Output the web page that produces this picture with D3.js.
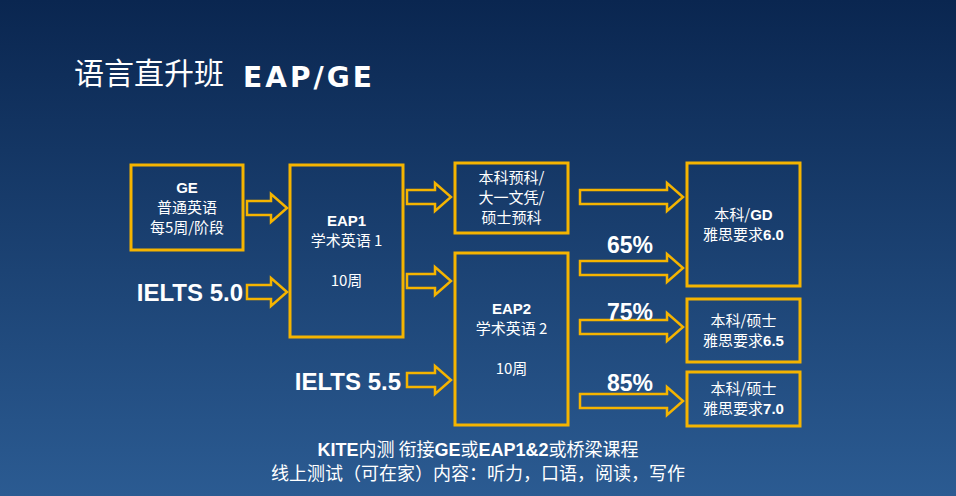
<!DOCTYPE html>
<html><head><meta charset="utf-8">
<script src="https://cdn.jsdelivr.net/npm/d3@7"></script>
<style>body{margin:0;overflow:hidden}</style>
</head><body><div id="vis"></div>
<script>
// box texts
const boxLines = [
  ["GE", "普通英语", "每5周/阶段"],
  ["EAP1", "学术英语 1", "", "10周"],
  ["本科预科/", "大一文凭/", "硕士预科"],
  ["EAP2", "学术英语 2", "", "10周"],
  ["本科/GD", "雅思要求6.0"],
  ["本科/硕士", "雅思要求6.5"],
  ["本科/硕士", "雅思要求7.0"]
];
const percents = ["65%", "75%", "85%"];
const entryLabels = ["IELTS 5.0", "IELTS 5.5"];
const footer = ["KITE内测 衔接GE或EAP1&2或桥梁课程", "线上测试（可在家）内容：听力，口语，阅读，写作"];

// layout
const boxRects = [[131,165,112,85],[290,165,113,172],[455,163,113,70],[455,253,113,172],[687,163,113,123],[687,299,113,63],[687,372,113,54]];
const arrowPos = [[247,287,208],[247,287,292],[407,451,197],[407,451,281],[407,451,380],[580,683,197],[580,683,268],[580,683,327],[580,683,401]];
const gold = "#f5b400";

const svg = d3.select("#vis").append("svg").attr("width",956).attr("height",496);
const grad = svg.append("defs").append("linearGradient").attr("id","bg").attr("x1",0).attr("y1",0).attr("x2",0).attr("y2",1);
grad.append("stop").attr("offset","0%").attr("stop-color","#0a2650");
grad.append("stop").attr("offset","100%").attr("stop-color","#2b5b92");
svg.append("rect").attr("width",956).attr("height",496).attr("fill","url(#bg)");

svg.append("text").attr("x",74).attr("y",84).attr("fill","#fff").style("font-family","Noto Sans CJK SC")
  .style("font-size","30px").text("语言直升班");
svg.append("text").attr("x",243).attr("y",87).attr("fill","#fff").style("font-family","DejaVu Sans")
  .style("font-weight","bold").style("font-size","28px").attr("textLength",129).text("EAP/GE");

// split a line into latin (bold) and CJK (regular) runs
const runs = t => t.match(/[A-Za-z0-9.&%]+|[^A-Za-z0-9.&%]+/g) || [];
function richText(sel, t, boldLatin) {
  runs(t).forEach(r => {
    const latin = /[A-Za-z0-9]/.test(r);
    sel.append("tspan").text(r)
      .style("font-family", latin && boldLatin ? "Liberation Sans" : "Noto Sans CJK SC")
      .style("font-weight", latin && boldLatin ? "bold" : "normal");
  });
}

const bx = svg.selectAll(".box").data(boxRects).enter().append("g").attr("class","box");
bx.append("rect").attr("x",d=>d[0]).attr("y",d=>d[1]).attr("width",d=>d[2]).attr("height",d=>d[3])
  .attr("fill","none").attr("stroke",gold).attr("stroke-width",3);
bx.each(function(d,i){
  const lines = boxLines[i], lh = 20;
  const y0 = d[1] + d[3]/2 - (lines.length-1)*lh/2 + 5;
  lines.forEach((t,j) => {
    const tx = d3.select(this).append("text").attr("x", d[0]+d[2]/2).attr("y", y0+j*lh)
      .attr("text-anchor","middle").attr("fill","#fff").style("font-size","15px");
    richText(tx, t, i >= 4 || /^(GE|EAP)/.test(t));
  });
});

const arrowPath = ([x1,x2,y]) => {
  const hl = 16, sh = 7, hh = 14, xh = x2-hl;
  return `M${x1},${y-sh}L${xh},${y-sh}L${xh},${y-hh}L${x2},${y}L${xh},${y+hh}L${xh},${y+sh}L${x1},${y+sh}Z`;
};
svg.selectAll(".arr").data(arrowPos).enter().append("path").attr("d",arrowPath)
  .attr("fill","none").attr("stroke",gold).attr("stroke-width",2.5).attr("stroke-linejoin","miter");

const bold = s => s.style("font-family","Liberation Sans").style("font-weight","bold").attr("fill","#fff");
svg.selectAll(".pct").data(percents).enter().append("text").call(bold)
  .attr("x",630).attr("y",(d,i)=>[253,320,391][i]).attr("text-anchor","middle").style("font-size","23px").text(d=>d);
svg.selectAll(".ent").data(entryLabels).enter().append("text").call(bold)
  .attr("x",(d,i)=>[243,401][i]).attr("y",(d,i)=>[301,390][i]).attr("text-anchor","end").style("font-size","24px").text(d=>d);

svg.selectAll(".ft").data(footer).enter().append("text").attr("x",478).attr("y",(d,i)=>456+i*24)
  .attr("text-anchor","middle").attr("fill","#fff").style("font-size","18px")
  .each(function(d){ richText(d3.select(this), d, true); });
</script></body></html>
